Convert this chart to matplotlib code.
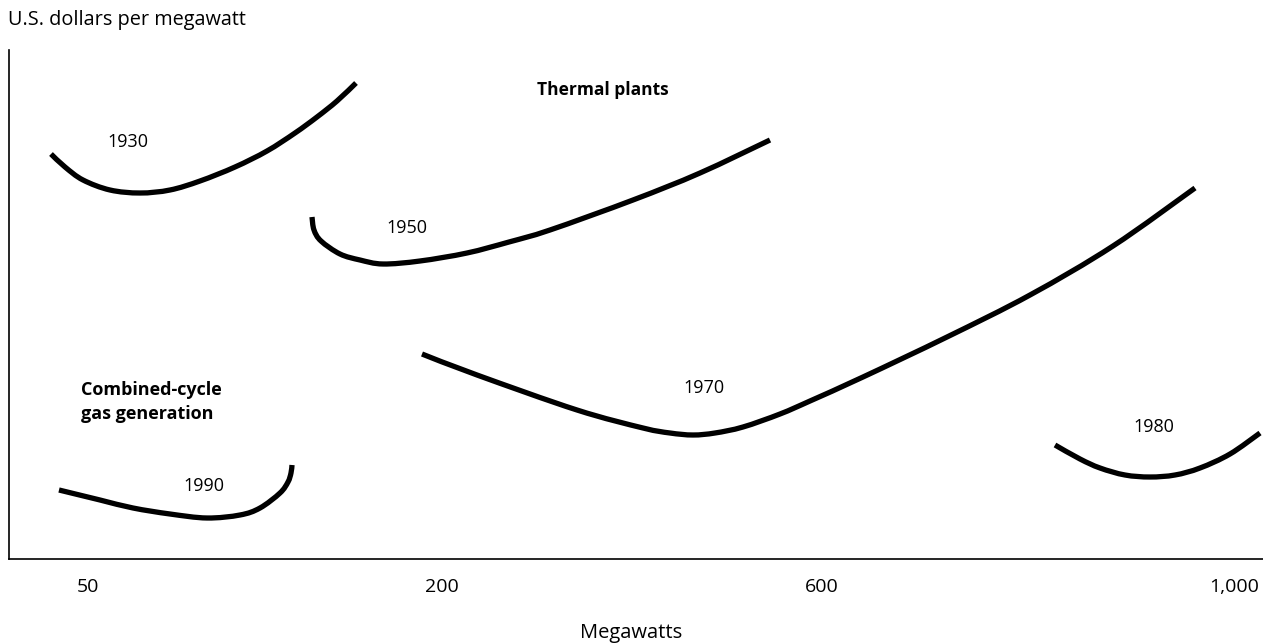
import numpy as np
import matplotlib.pyplot as plt
from matplotlib.path import Path
from matplotlib.patches import PathPatch

plt.rcParams['font.family'] = ['Open Sans', 'DejaVu Sans']

# curves (x: position along the megawatt axis, y: cost)
x1930 = [42, 56, 74, 101, 131, 161, 191, 226, 258, 286, 308, 328, 347]
y1930 = [405, 392, 379, 369, 366, 369, 378, 392, 408, 426, 442, 458, 476]

x1950 = [303, 305, 312, 331, 351, 374, 411, 458, 500, 541, 624, 691, 761]
y1950 = [342, 329, 318, 305, 299, 295, 298, 306, 317, 329, 359, 386, 419]

x1970 = [413, 468, 568, 634, 661, 684, 706, 734, 771, 801, 854, 938, 1021, 1104, 1186]
y1970 = [205, 184, 149, 131, 126, 124, 126, 132, 145, 158, 182, 222, 264, 313, 371]

x1980 = [1046, 1071, 1091, 1116, 1141, 1166, 1191, 1221, 1251]
y1980 = [114, 100, 91, 84, 82, 84, 91, 105, 126]

x1990 = [50, 91, 124, 161, 198, 231, 251, 271, 279, 282, 283]
y1990 = [69, 59, 51, 45, 41, 44, 51, 66, 77, 86, 94]

curves = [(x1930, y1930), (x1950, y1950), (x1970, y1970), (x1980, y1980), (x1990, y1990)]

tick_pos = [79, 433, 813, 1225]
tick_labels = ['50', '200', '600', '1,000']

# year labels and where they sit
years = ['1930', '1950', '1970', '1980', '1990']
year_x = [119, 398, 695, 1145, 195]
year_y = [417, 331, 171, 132, 73]


def smooth_path(xs, ys):
    # catmull-rom through the read points, drawn as cubic bezier segments
    p = np.column_stack([xs, ys]).astype(float)
    p_ext = np.vstack([p[0], p, p[-1]])
    verts = [p[0]]
    codes = [Path.MOVETO]
    for i in range(len(p) - 1):
        p0, p1, p2, p3 = p_ext[i], p_ext[i + 1], p_ext[i + 2], p_ext[i + 3]
        verts += [p1 + (p2 - p0) / 6, p2 - (p3 - p1) / 6, p2]
        codes += [Path.CURVE4] * 3
    return Path(verts, codes)


fig = plt.figure(figsize=(12.63, 6.44), dpi=100)
ax = fig.add_axes([9 / 1263, 85 / 644, 1254 / 1263, 509 / 644])
ax.set_xlim(0, 1254)
ax.set_ylim(0, 509)

for xs, ys in curves:
    ax.add_patch(PathPatch(smooth_path(xs, ys), fill=False, edgecolor='black',
                           lw=3.8, capstyle='butt', joinstyle='round'))

for lab, xx, yy in zip(years, year_x, year_y):
    ax.text(xx, yy, lab, ha='center', va='center', fontsize=13)

ax.text(528, 469, 'Thermal plants', ha='left', va='center', fontsize=12.5, fontweight='bold')
ax.text(72, 157, 'Combined-cycle\ngas generation', ha='left', va='center',
        fontsize=13, fontweight='bold', linespacing=1.45)

ax.spines['top'].set_visible(False)
ax.spines['right'].set_visible(False)
ax.spines['left'].set_linewidth(1.2)
ax.spines['bottom'].set_linewidth(1.2)
ax.set_yticks([])
ax.set_xticks(tick_pos)
ax.set_xticklabels(tick_labels, fontsize=14)
ax.tick_params(axis='x', length=0, pad=14)

fig.text(8 / 1263, 1 - 20 / 644, 'U.S. dollars per megawatt', ha='left', va='center', fontsize=14.3)
fig.text(631 / 1263, 1 - 633 / 644, 'Megawatts', ha='center', va='center', fontsize=14.5)

fig.savefig('out.png', dpi=100)
